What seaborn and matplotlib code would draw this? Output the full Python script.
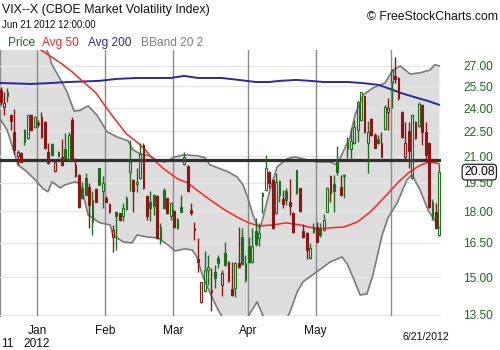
import numpy as np
import matplotlib
matplotlib.use("Agg")
import matplotlib.pyplot as plt
import matplotlib.transforms as mtransforms
from matplotlib.ticker import NullLocator
import seaborn as sns

# ---- daily OHLC, trading-day index 0 = 15 Dec 2011 ... 129 = 21 Jun 2012 ----
opens = [25.24, 24.09, 25.12, 23.54, 22.48, 21.03, 21.15, 22.58, 22.07, 23.54,
         22.79, 23.05, 23.43, 23.11, 21.23, 21.70, 20.12, 21.21, 20.97, 21.40,
         20.78, 23.22, 20.49, 19.93, 19.24, 19.75, 19.29, 17.50, 19.17, 20.30,
         19.03, 18.71, 18.38, 16.78, 17.99, 17.91, 17.75, 18.13, 20.08, 19.66,
         19.42, 19.75, 21.66, 18.77, 18.50, 18.85, 18.77, 16.63, 19.12, 18.68,
         17.75, 18.03, 17.18, 18.24, 20.53, 20.45, 18.08, 17.18, 15.77, 13.98,
         14.43, 15.30, 14.47, 15.23, 15.80, 14.67, 16.03, 15.66, 14.51, 14.54,
         15.59, 16.78, 14.88, 16.33, 15.63, 17.05, 16.74, 18.94, 19.12, 20.08,
         19.66, 17.91, 18.85, 18.64, 19.03, 18.50, 17.91, 20.21, 19.20, 17.05,
         16.97, 15.80, 17.26, 17.26, 17.18, 17.10, 17.99, 19.84, 19.42, 20.68,
         19.29, 19.93, 21.42, 21.42, 21.76, 22.58, 23.22, 24.78, 21.76, 23.28,
         22.27, 22.03, 21.76, 22.65, 23.76, 25.83, 26.26, 26.12, 23.76, 20.97,
         22.52, 19.75, 23.11, 22.86, 24.21, 22.44, 21.76, 17.66, 17.99, 16.86]
highs = [25.47, 25.07, 25.36, 23.58, 23.91, 21.37, 21.23, 22.65, 23.58, 23.58,
         23.50, 23.22, 23.76, 23.15, 21.76, 21.76, 20.68, 21.27, 22.03, 22.38,
         22.44, 23.43, 20.88, 19.97, 19.56, 20.03, 19.47, 19.03, 19.20, 20.34,
         19.84, 18.77, 18.42, 17.34, 18.03, 17.94, 18.42, 18.77, 21.96, 19.69,
         20.30, 21.76, 21.76, 18.85, 19.03, 18.88, 18.85, 17.42, 19.20, 18.71,
         18.50, 18.08, 17.66, 18.85, 21.23, 20.49, 18.42, 17.50, 16.71, 14.81,
         16.13, 15.95, 15.37, 15.51, 15.95, 15.30, 16.55, 15.69, 15.66, 15.63,
         17.26, 17.18, 15.95, 16.78, 17.21, 17.69, 17.42, 18.99, 21.07, 20.12,
         19.71, 20.03, 19.66, 19.12, 19.20, 19.71, 17.99, 20.22, 19.24, 17.37,
         17.02, 16.48, 17.42, 17.47, 17.42, 17.86, 19.29, 19.90, 19.90, 21.62,
         19.90, 19.97, 22.17, 22.69, 23.22, 24.48, 25.12, 24.84, 23.15, 23.33,
         22.38, 22.27, 22.44, 24.21, 24.66, 26.76, 27.69, 26.19, 23.80, 23.11,
         23.07, 23.58, 23.15, 24.43, 24.25, 23.11, 21.82, 18.64, 18.42, 20.53]
lows = [24.21, 23.54, 24.43, 22.58, 21.11, 20.49, 20.64, 21.66, 22.03, 22.52,
        22.73, 22.79, 22.11, 21.40, 20.53, 21.03, 20.08, 20.97, 20.45, 20.84,
        20.72, 20.72, 19.80, 18.19, 18.64, 18.82, 17.18, 16.86, 18.47, 19.35,
        18.16, 18.47, 17.93, 16.10, 16.17, 17.53, 17.53, 18.08, 19.03, 17.99,
        19.00, 19.71, 19.17, 17.58, 17.53, 17.83, 16.68, 16.43, 18.13, 17.86,
        17.58, 17.21, 17.15, 17.96, 20.49, 19.00, 17.80, 16.63, 15.23, 13.94,
        14.40, 14.67, 13.65, 14.56, 15.37, 14.24, 15.48, 14.81, 14.24, 14.20,
        15.37, 15.50, 14.81, 15.59, 15.59, 16.37, 16.37, 17.91, 19.06, 19.20,
        17.15, 17.86, 18.50, 18.16, 18.33, 17.83, 16.94, 18.88, 17.99, 16.74,
        15.77, 15.77, 16.94, 16.52, 16.78, 17.05, 17.96, 18.50, 17.99, 19.93,
        18.77, 18.68, 20.88, 20.84, 21.70, 21.82, 23.15, 22.38, 20.03, 22.23,
        21.46, 21.70, 20.92, 22.58, 22.58, 23.98, 25.71, 24.55, 22.11, 20.84,
        20.30, 19.71, 22.03, 22.79, 21.66, 20.84, 18.19, 17.58, 17.15, 16.82]
closes = [24.43, 24.32, 24.84, 23.15, 21.37, 21.23, 20.68, 21.86, 23.54, 22.58,
          23.43, 22.94, 22.17, 21.46, 20.59, 21.07, 20.64, 21.03, 20.49, 20.88,
          22.27, 20.78, 19.84, 18.24, 18.68, 18.85, 18.33, 18.59, 18.50, 19.38,
          19.47, 18.50, 17.96, 17.10, 17.75, 17.58, 18.16, 18.68, 20.68, 19.03,
          19.56, 21.11, 19.20, 17.75, 18.16, 18.30, 16.71, 17.26, 18.16, 17.91,
          18.42, 17.26, 17.63, 17.99, 20.92, 19.03, 17.91, 17.10, 15.63, 14.78,
          15.30, 15.43, 14.40, 14.98, 15.59, 15.16, 15.51, 14.84, 14.27, 15.59,
          15.41, 15.54, 15.60, 15.66, 16.33, 16.43, 16.94, 18.77, 20.34, 19.47,
          17.18, 19.56, 19.60, 18.36, 18.59, 18.30, 17.02, 18.94, 18.03, 16.78,
          16.17, 16.28, 17.02, 16.55, 16.86, 17.58, 19.20, 18.94, 19.03, 20.08,
          18.82, 19.84, 21.82, 21.90, 22.79, 24.43, 25.07, 22.44, 22.48, 22.27,
          21.50, 21.76, 20.97, 24.09, 24.02, 26.68, 26.02, 24.66, 22.17, 21.76,
          21.27, 23.54, 22.07, 24.25, 22.48, 21.07, 18.24, 18.50, 17.18, 20.08]
prior_close = 25.0

# ---- indicators (trading-day index, value) ----
ma50_idx = [0, 14, 18, 21, 25, 28, 31, 34, 37, 40, 42, 45, 48, 52, 55, 58, 62, 66,
            70, 73, 76, 80, 84, 88, 93, 97, 101, 105, 109, 113, 117, 120, 123, 126, 129]
ma50 = [30.4, 27.82, 27.13, 26.54, 25.66, 25.03, 24.04, 23.15, 22.33, 21.84, 21.48,
        20.78, 20.26, 19.71, 19.49, 19.06, 18.54, 18.07, 17.68, 17.44, 17.29, 17.34,
        17.44, 17.34, 17.15, 17.20, 17.24, 17.49, 18.02, 18.75, 19.54, 20.05, 20.43,
        20.66, 20.55]

ma200_idx = [0, 9, 15, 20, 29, 34, 40, 50, 54, 58, 65, 70, 75, 79, 82, 87, 91, 95,
             102, 106, 111, 114, 118, 122, 126, 129]
ma200 = [25.73, 25.66, 25.73, 25.80, 25.88, 26.02, 26.09, 26.09, 26.24, 26.09, 26.09,
         25.95, 25.80, 25.80, 25.88, 25.95, 25.88, 25.80, 25.80, 25.73, 25.60, 25.35,
         25.00, 24.72, 24.45, 24.21]

bb_up_idx = [0, 10, 13, 14.2, 15.1, 17.5, 19.5, 21.6, 23.3, 25.7, 28.3, 31.3, 34.2,
             37.5, 38.9, 41, 43.9, 46.3, 48.3, 51.3, 53.9, 58, 60.1, 61.6, 63.9, 66.9,
             69.5, 71.3, 72.7, 74.2, 75.4, 76.3, 77.2, 79.2, 81.3, 84.2, 86.6, 90.1,
             93, 96.9, 98.9, 100.7, 102.7, 104.2, 106.6, 109.5, 113, 115.4, 117.5,
             120.4, 123.3, 126.3, 127.7, 129]
bb_upper = [32.0, 30.0, 28.5, 27.82, 27.06, 26.02, 25.10, 23.80, 23.84, 24.14, 23.54,
            22.46, 22.15, 21.90, 21.37, 21.13, 21.01, 20.72, 20.66, 20.95, 21.07, 21.01,
            20.90, 20.49, 20.32, 20.10, 19.82, 19.38, 18.69, 17.83, 17.34, 17.20, 17.73,
            19.12, 20.38, 20.84, 20.95, 20.78, 20.66, 20.66, 20.49, 21.25, 22.09, 23.54,
            24.89, 25.38, 25.73, 26.68, 26.98, 26.38, 26.46, 26.68, 27.06, 26.98]

bb_lo_idx = [0, 1.9, 4.2, 5.1, 7.7, 10.1, 12.5, 13.9, 15.1, 17.5, 18.9, 21.9, 23.3,
             24.8, 25.7, 29.2, 32.2, 33, 36, 38.6, 40.1, 43, 46.3, 49.2, 51.3, 54.2,
             56.3, 57.7, 59.5, 61.6, 63.9, 66, 70.4, 72.7, 75.4, 77.2, 79.2, 83.6,
             85.1, 87.2, 88.9, 93, 96.9, 100.4, 101.9, 103.6, 105.7, 107.7, 109.5,
             112.2, 113.9, 116.6, 119.5, 121, 123.3, 125.7, 129]
bb_lower = [23.22, 22.58, 21.07, 20.49, 20.10, 19.66, 19.17, 19.01, 19.55, 19.22, 19.38,
            19.55, 19.43, 18.49, 17.83, 17.44, 17.34, 16.86, 16.54, 16.49, 16.86, 16.77,
            16.72, 16.40, 16.13, 16.22, 16.17, 15.86, 15.00, 14.35, 13.70, 13.25, 13.0,
            13.43, 14.00, 13.45, 13.0, 13.25, 13.61, 14.39, 14.80, 15.22, 15.64, 15.86,
            15.56, 15.00, 14.27, 14.31, 15.09, 16.86, 17.68, 18.43, 19.66, 19.93, 19.12,
            18.07, 17.20]

level_line = 20.77

price_ticks = [13.5, 15.0, 16.5, 18.0, 19.5, 21.0, 22.5, 24.0, 25.5, 27.0]
month_start_idx = [11, 31, 51, 73, 93, 115]
month_labels = ["Jan", "Feb", "Mar", "Apr", "May"]
year_labels = ["11", "2012"]
last_date_label = "6/21/2012"

# ---- style ----
sns.set_theme(style="white")
plt.rcParams["font.family"] = ["Liberation Sans", "DejaVu Sans"]

RED = "#8c1616"
GREEN = "#1d6f1d"
W, H = 500, 350

fig = plt.figure(figsize=(5, 3.5), dpi=100, facecolor="white")
ax = fig.add_axes([0, 34 / H, 441 / W, 266 / H])
ax.set_facecolor("white")
ax.set_yscale("log")
ax.set_ylim(13.46, 28.2)
ax.set_xlim(-0.2, 129.5)

# Bollinger band shading and edges
band_x = np.r_[bb_up_idx, bb_lo_idx[::-1]]
band_y = np.r_[bb_upper, bb_lower[::-1]]
ax.fill(band_x, band_y, color="#dddddd", lw=0, zorder=1)
sns.lineplot(x=bb_up_idx, y=bb_upper, ax=ax, color="#7a7a7a", lw=1.2, zorder=3)
sns.lineplot(x=bb_lo_idx, y=bb_lower, ax=ax, color="#7a7a7a", lw=1.2, zorder=3)

# month separators
for m in month_start_idx:
    ax.axvline(m - 0.35, color="#8a8a8a", lw=1.0, zorder=2.6)

# moving averages
sns.lineplot(x=ma200_idx, y=ma200, ax=ax, color="#2a2a9c", lw=1.4, zorder=3.2)
sns.lineplot(x=ma50_idx, y=ma50, ax=ax, color="#ff2424", lw=1.1, zorder=3.3)

# horizontal level
ax.axhline(level_line, color="#303030", lw=2.3, zorder=3.5)

# candles
o = np.array(opens); h = np.array(highs); l = np.array(lows); c = np.array(closes)
x = np.arange(len(c))
prev = np.r_[prior_close, c[:-1]]
colors = np.where(c >= prev, GREEN, RED)
hollow = c > o
body_lo = np.minimum(o, c)
body_hi = np.maximum(o, c)
ax.vlines(x, l, body_lo, colors=colors, lw=1.0, zorder=5)
ax.vlines(x, body_hi, h, colors=colors, lw=1.0, zorder=5)
faces = ["none" if hol else col for hol, col in zip(hollow, colors)]
ax.bar(x, body_hi - body_lo, bottom=body_lo, width=0.56, color=faces,
       edgecolor=colors, linewidth=0.8, zorder=6)

# axes furniture
for side in ["top", "right", "bottom"]:
    ax.spines[side].set_visible(False)
ax.spines["left"].set_visible(True)
ax.spines["left"].set_color("#8a8a8a")
ax.spines["left"].set_linewidth(1.0)

ax.yaxis.tick_right()
ax.set_yticks(price_ticks)
ax.set_yticklabels([f"{v:.2f}" for v in price_ticks])
ax.yaxis.set_minor_locator(NullLocator())
ax.tick_params(axis="y", length=0, pad=(463 - 441) * 0.72, labelsize=8.6,
               labelcolor="#1f6b1f")
ax.set_axisbelow(False)
ax.grid(axis="y", color="#e6e6e6", lw=1.0)
ax.grid(axis="x", visible=False)

ax.set_xticks([m - 0.35 for m in month_start_idx[:len(month_labels)]])
ax.set_xticklabels(month_labels)
ax.tick_params(axis="x", length=0, pad=6.5, labelsize=8.6, labelcolor="#111111")

# year row and last date
trans_x = mtransforms.blended_transform_factory(ax.transData, fig.transFigure)
ax.text(month_start_idx[0] - 0.35, 1 - 344 / H, year_labels[1], transform=trans_x,
        ha="center", va="center", fontsize=8.6, color="#111111", clip_on=False)
fig.text(1 / W, 1 - 344 / H, year_labels[0], ha="left", va="center",
         fontsize=8.6, color="#111111")
fig.text(426 / W, 1 - 337 / H, last_date_label, ha="center", va="center",
         fontsize=7.6, color="#111111")

# last close marker on the price scale
trans_y = mtransforms.blended_transform_factory(fig.transFigure, ax.transData)
fig.text(464 / W, closes[-1], f"{closes[-1]:.2f}", transform=trans_y, ha="left",
         va="center", fontsize=8.8, color="black",
         bbox=dict(boxstyle="round,pad=0.15,rounding_size=0.3", fc="white",
                   ec="#222222", lw=0.9))

# header
fig.text(2 / W, 1 - 10 / H, "VIX--X (CBOE Market Volatility Index)", ha="left",
         va="center", fontsize=8.9, color="#111111")
fig.text(2 / W, 1 - 25 / H, "Jun 21 2012 12:00:00", ha="left", va="center",
         fontsize=7.0, color="#111111")
fig.text(498 / W, 1 - 17 / H, "\u00a9 FreeStockCharts.com", ha="right",
         va="center", fontsize=8.8, color="#111111")
legend_items = [("Price", 8, "#1a6e1a"), ("Avg 50", 42, "#ff2020"),
                ("Avg 200", 88, "#2a2a9c"), ("BBand 20 2", 141, "#808080")]
for label, px, col in legend_items:
    fig.text(px / W, 1 - 43 / H, label, ha="left", va="center", fontsize=8.6,
             color=col)

fig.savefig("out.png", dpi=100, facecolor="white")
